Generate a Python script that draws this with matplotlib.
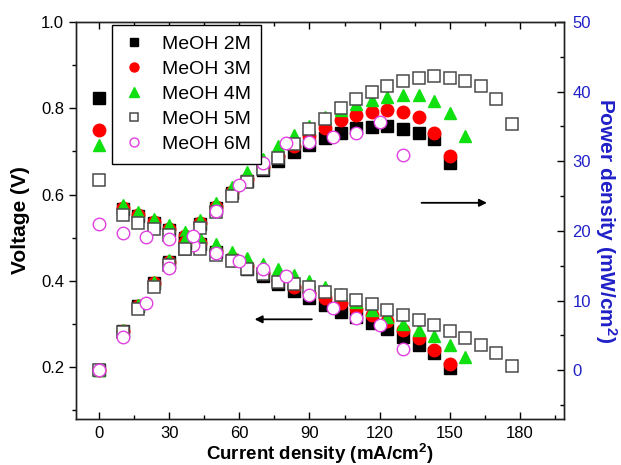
import matplotlib
matplotlib.use("Agg")
import matplotlib.pyplot as plt
from matplotlib.ticker import MultipleLocator

plt.rcParams['font.family'] = ['Liberation Sans', 'DejaVu Sans']
plt.rcParams['mathtext.fontset'] = 'custom'
plt.rcParams['mathtext.rm'] = 'Liberation Sans'
plt.rcParams['mathtext.bf'] = 'Liberation Sans:bold'

# ---- data: current density (mA/cm2), cell voltage (V), power density (mW/cm2)
current_2m = [0, 10, 16.7, 23.3, 30, 36.7, 43.3, 50, 56.7, 63.3, 70, 76.7, 83.3,
              90, 96.7, 103.3, 110, 116.7, 123.3, 130, 136.7, 143.3, 150]
voltage_2m = [0.824, 0.567, 0.550, 0.535, 0.518, 0.500, 0.485, 0.466, 0.448, 0.428,
              0.411, 0.393, 0.377, 0.360, 0.344, 0.329, 0.316, 0.302, 0.288, 0.269,
              0.251, 0.234, 0.199]
power_2m = [0, 5.7, 9.2, 12.5, 15.5, 18.3, 21.0, 23.3, 25.4, 27.1, 28.8, 30.1, 31.4,
            32.4, 33.3, 34.0, 34.8, 34.9, 35.0, 34.6, 34.0, 33.2, 29.8]

current_3m = [0, 10, 16.7, 23.3, 30, 36.7, 43.3, 50, 56.7, 63.3, 70, 76.7, 83.3,
              90, 96.7, 103.3, 110, 116.7, 123.3, 130, 136.7, 143.3, 150]
voltage_3m = [0.750, 0.570, 0.553, 0.537, 0.521, 0.503, 0.488, 0.470, 0.452, 0.435,
              0.418, 0.402, 0.387, 0.373, 0.360, 0.348, 0.334, 0.320, 0.306, 0.287,
              0.268, 0.241, 0.208]
power_3m = [0, 5.7, 9.2, 12.5, 15.6, 18.4, 21.1, 23.5, 25.6, 27.5, 29.2, 30.8, 32.2,
            33.6, 34.8, 36.0, 36.7, 37.1, 37.3, 37.1, 36.4, 34.1, 30.8]

current_4m = [0, 10, 16.7, 23.3, 30, 36.7, 43.3, 50, 56.7, 63.3, 70, 76.7, 83.3,
              90, 96.7, 103.3, 110, 116.7, 123.3, 130, 136.7, 143.3, 150, 156.7]
voltage_4m = [0.715, 0.577, 0.560, 0.544, 0.529, 0.514, 0.500, 0.486, 0.467, 0.452,
              0.440, 0.427, 0.413, 0.400, 0.386, 0.370, 0.350, 0.332, 0.316, 0.301,
              0.287, 0.272, 0.252, 0.224]
power_4m = [0, 5.8, 9.4, 12.7, 15.9, 18.9, 21.6, 24.0, 26.3, 28.4, 30.4, 32.2, 33.8,
            35.0, 36.3, 37.4, 38.2, 38.8, 39.3, 39.5, 39.5, 38.6, 36.9, 33.6]

current_5m = [0, 10, 16.7, 23.3, 30, 36.7, 43.3, 50, 56.7, 63.3, 70, 76.7, 83.3,
              90, 96.7, 103.3, 110, 116.7, 123.3, 130, 136.7, 143.3, 150, 156.7,
              163.3, 170, 176.7]
voltage_5m = [0.635, 0.552, 0.535, 0.521, 0.506, 0.475, 0.475, 0.459, 0.446, 0.428,
              0.415, 0.397, 0.392, 0.387, 0.374, 0.367, 0.356, 0.346, 0.332, 0.321,
              0.309, 0.297, 0.283, 0.267, 0.252, 0.232, 0.202]
power_5m = [0, 5.5, 8.8, 12.0, 15.1, 17.4, 20.4, 22.7, 25.0, 27.0, 28.9, 30.5, 32.5,
            34.6, 36.1, 37.7, 38.9, 40.0, 40.8, 41.5, 41.9, 42.3, 42.0, 41.5, 40.8,
            38.9, 35.3]

current_6m = [0, 10, 20, 30, 40, 50, 60, 70, 80, 90, 100, 110, 120, 130]
voltage_6m = [0.531, 0.511, 0.502, 0.496, 0.483, 0.465, 0.446, 0.428, 0.411, 0.367,
              0.338, 0.313, 0.299, 0.242]
power_6m = [0, 4.8, 9.7, 14.7, 19.3, 22.9, 26.6, 29.8, 32.6, 32.8, 33.5, 34.0, 35.7,
            30.9]

labels = ['MeOH 2M', 'MeOH 3M', 'MeOH 4M', 'MeOH 5M', 'MeOH 6M']
x_ticks = [0, 30, 60, 90, 120, 150, 180]
v_ticks = [0.2, 0.4, 0.6, 0.8, 1.0]
p_ticks = [0, 10, 20, 30, 40, 50]

series = [
    (current_2m, voltage_2m, power_2m,
     dict(marker='s', ms=8.2, mfc='black', mec='black', mew=1.0)),
    (current_3m, voltage_3m, power_3m,
     dict(marker='o', ms=9.0, mfc='#ff0000', mec='#ff0000', mew=1.0)),
    (current_4m, voltage_4m, power_4m,
     dict(marker='^', ms=9.2, mfc='#10e010', mec='#10e010', mew=1.0)),
    (current_5m, voltage_5m, power_5m,
     dict(marker='s', ms=8.2, mfc='white', mec='#4a4a4a', mew=1.1)),
    (current_6m, voltage_6m, power_6m,
     dict(marker='o', ms=9.0, mfc='white', mec='#e040e0', mew=1.0)),
]

fig = plt.figure(figsize=(6.21, 4.65), dpi=100)
ax = fig.add_axes([0.1224, 0.0989, 0.7858, 0.8538])
ax2 = ax.twinx()

handles = []
for cur, volt, powr, style in series:
    h, = ax.plot(cur, volt, ls='none', **style)
    ax2.plot(cur, powr, ls='none', **style)
    handles.append(h)

# axes ranges and ticks
ax.set_xlim(-10, 199)
ax.set_ylim(0.08, 1.0)
ax2.set_ylim(-7, 50)

ax.set_xticks(x_ticks)
ax.set_xticklabels([str(t) for t in x_ticks])
ax.xaxis.set_minor_locator(MultipleLocator(15))
ax.set_yticks(v_ticks)
ax.set_yticklabels([f'{t:.1f}' for t in v_ticks])
ax.yaxis.set_minor_locator(MultipleLocator(0.1))
ax2.set_yticks(p_ticks)
ax2.set_yticklabels([str(t) for t in p_ticks])
ax2.yaxis.set_minor_locator(MultipleLocator(5))

ax.tick_params(axis='x', which='both', direction='in', top=True, labelsize=12, pad=5)
ax.tick_params(axis='x', which='major', length=5, width=1)
ax.tick_params(axis='x', which='minor', length=3, width=1)
ax.tick_params(axis='y', which='major', direction='out', length=5, width=1, labelsize=12)
ax.tick_params(axis='y', which='minor', direction='out', length=3, width=1)
ax2.tick_params(axis='y', which='major', direction='in', length=5, width=1,
                labelsize=12, labelcolor='#2020c8', pad=6)
ax2.tick_params(axis='y', which='minor', direction='in', length=3, width=1)

for a in (ax, ax2):
    for sp in a.spines.values():
        sp.set_linewidth(1.0)
        sp.set_color('#222222')

ax.set_xlabel('Current density (mA/cm$\\mathbf{^2}$)', fontsize=13.5,
              fontweight='bold', labelpad=1)
ax.set_ylabel('Voltage (V)', fontsize=15, fontweight='bold', labelpad=8)
ax2.set_ylabel('Power density (mW/cm$\\mathbf{^2}$)', fontsize=15,
               fontweight='bold', color='#2020c8', rotation=270, labelpad=20)

# direction arrows: voltage curves read on the left axis, power on the right
ax.annotate('', xy=(66.5, 0.311), xytext=(91, 0.311),
            arrowprops=dict(arrowstyle='-|>', color='black', lw=1.3,
                            mutation_scale=11, shrinkA=0, shrinkB=0))
ax.annotate('', xy=(166, 0.581), xytext=(138, 0.581),
            arrowprops=dict(arrowstyle='-|>', color='black', lw=1.3,
                            mutation_scale=11, shrinkA=0, shrinkB=0))

leg = ax2.legend(handles, labels, loc='upper left', bbox_to_anchor=(0.074, 0.993),
                 borderaxespad=0, frameon=True, fancybox=False, edgecolor='black',
                 framealpha=1, fontsize=14, markerscale=0.72, handlelength=1.2,
                 handletextpad=0.8, labelspacing=0.38, borderpad=0.55)
leg.get_frame().set_linewidth(1.0)

fig.savefig('out.png', dpi=100)
